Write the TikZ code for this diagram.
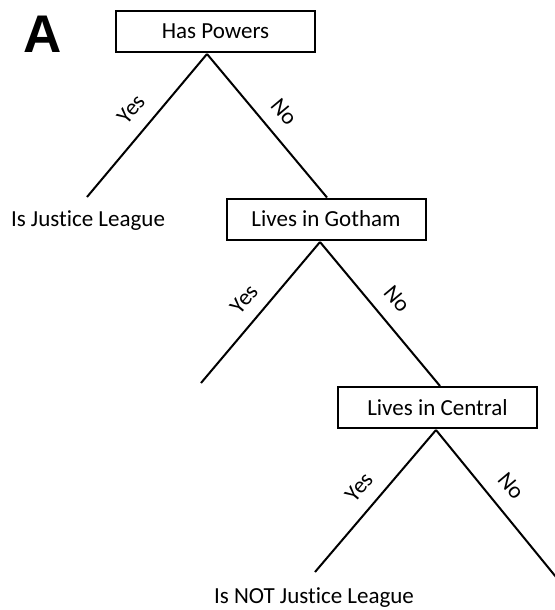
\documentclass[tikz,border=0pt]{standalone}
\usepackage{fontspec}
\setmainfont[Ligatures=NoCommon]{Carlito}
\newfontfamily\bigA{Liberation Sans}
\begin{document}
\begin{tikzpicture}[x=1pt,y=-1pt,
  decision/.style={draw,line width=2pt,minimum width=199pt,minimum height=41pt,inner sep=0pt,font=\fontsize{23}{27}\selectfont},
  leaf/.style={inner sep=0pt,font=\fontsize{23}{27}\selectfont},
  lbl/.style={inner sep=0pt,font=\fontsize{23}{27}\selectfont},
  edge/.style={line width=2pt}]
\useasboundingbox (0,0) rectangle (554,610);
\node[inner sep=0pt,font=\bigA\bfseries\fontsize{53}{60}\selectfont] (A) at (43,34) {A};
\node[decision] (hp) at (215.5,31.5) {Has Powers};
\node[decision] (go) at (326,219) {Lives in Gotham};
\node[decision] (ce) at (437.5,407.5) {Lives in Central};
\coordinate (a1) at (207,54);
\coordinate (a2) at (320,242);
\coordinate (a3) at (436,430);
\coordinate (y1) at (87,197);
\coordinate (y2) at (201,383);
\coordinate (y3) at (315,572);
\coordinate (n3) at (556,577);
\node[leaf] (l1) at (88,221) {Is Justice League};
\node[leaf] (l2) at (314,598) {Is NOT Justice League};
\draw[edge] (a1) -- (y1);
\draw[edge] (a1) -- (go.north -| 327,0);
\draw[edge] (a2) -- (y2);
\draw[edge] (a2) -- (ce.north -| 440,0);
\draw[edge] (a3) -- (y3);
\draw[edge] (a3) -- (n3);
\node[lbl,rotate=50] (t1) at (131,109) {Yes};
\node[lbl,rotate=-50] (t2) at (284,112) {No};
\node[lbl,rotate=50] (t3) at (244,299) {Yes};
\node[lbl,rotate=-50] (t4) at (397,299) {No};
\node[lbl,rotate=50] (t5) at (359,487) {Yes};
\node[lbl,rotate=-50] (t6) at (511,486) {No};
\end{tikzpicture}
\end{document}
